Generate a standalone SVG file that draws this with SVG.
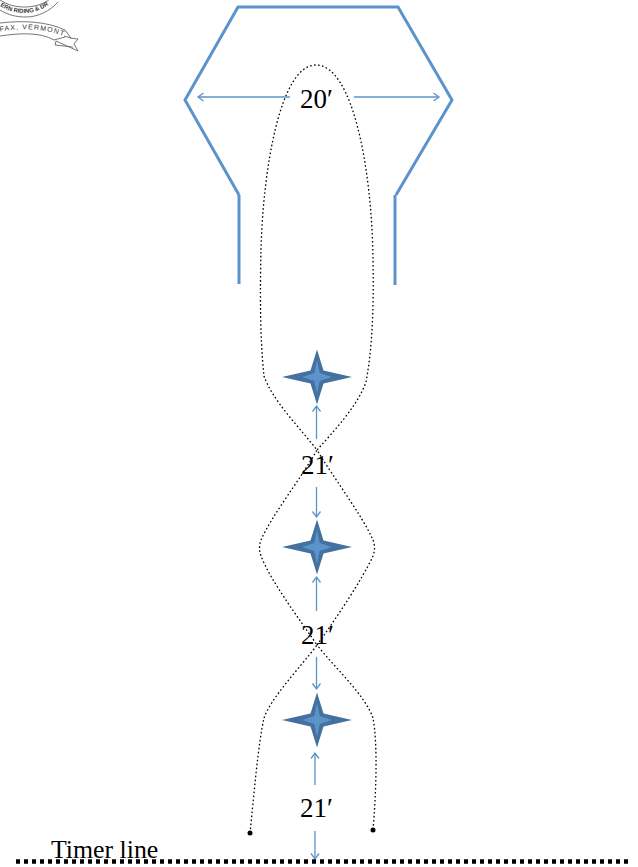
<svg xmlns="http://www.w3.org/2000/svg" width="638" height="867" viewBox="0 0 638 867">
<defs>
<marker id="arr" markerUnits="userSpaceOnUse" markerWidth="12" markerHeight="12" refX="9.5" refY="6" orient="auto"><path d="M4 2 L9.500 6 L4 10" fill="none" stroke="#5b93cb" stroke-width="1.300"/></marker>
<path id="star" d="M0 -27.500 L6.500 -6.500 L35 0 L6.500 6.500 L0 27.500 L-6.500 6.500 L-35 0 L-6.500 -6.500 Z"/>
<path id="logoArc" d="M0 6 C10 12 17 13 25 13 C34 13 44 9 53 2"/>
<path id="logoBand" d="M0 31.500 C20 28 45 28 66 37"/>
</defs>
<style>
.fence{fill:none;stroke:#5b93cb;stroke-width:3}
.dim{fill:none;stroke:#5b93cb;stroke-width:1.300;marker-end:url(#arr)}
.track{fill:none;stroke:#000;stroke-width:1.300;stroke-dasharray:1.600 2.400}
.lbl{font-family:"Liberation Serif",serif;font-size:27px;fill:#000}
.timer{font-size:25.800px}
.logo{font-family:"Liberation Sans",sans-serif;fill:#333;stroke:none}
.star-o{fill:#44719f}
.star-i{fill:#5b93cb}
</style>
<g id="logo" fill="none" stroke="#666" stroke-width="0.900">
<path d="M0 0 C8 5 15 7 25 7 C34 7 44 4 50 -1"/>
<path d="M0 10 C8 15 16 17 26 17 C38 17 50 11 58 2"/>
<path d="M0 23 C25 20 48 22 65 30 L71 38 L64 36 M0 36 C20 33 40 32 54 40 L65 37"/>
<path d="M70 38 L78 39 L74 44 L78 51 L56 41 L55 45 L73 47"/>
<text class="logo" font-size="6" font-weight="bold"><textPath href="#logoArc">ERN RIDING &amp; DR</textPath></text>
<text class="logo" font-size="7"><textPath href="#logoBand" textLength="64">FAX, VERMONT</textPath></text>
</g>
<g id="fence">
<path class="fence" d="M239 195 L185 100 L238 7 L398 7 L452 100 L396 195"/>
<path class="fence" d="M239 195 V284"/>
<path class="fence" d="M395 195 V285"/>
</g>
<g id="connectors">
<path class="track" d="M250 833 C254 795 258 745 264 718 C272 696 300 668 317 645 C300 620 270 580 261 556 Q258 548 261 540 C272 515 300 480 317 450 C300 428 272 400 264 376 C260 340 260 290 261 250 C263 170 280 65 316 65 C353 65 372 170 373 260 C374 310 372 350 366 382 C358 405 335 430 317 450 C335 480 362 515 373 540 Q376 548 373 556 C362 580 335 620 317 645 C335 668 365 695 373 718 C378 745 376 795 373 830"/>
<circle cx="250" cy="833" r="2.500" fill="#000"/>
<circle cx="373" cy="830" r="2.500" fill="#000"/>
<path class="dim" d="M290 97 H198"/>
<path class="dim" d="M354 97 H439"/>
<path class="dim" d="M316.500 439 V406"/>
<path class="dim" d="M316.500 487 V517"/>
<path class="dim" d="M316.500 611 V577"/>
<path class="dim" d="M316.500 657 V689"/>
<path class="dim" d="M315 785 V753"/>
<path class="dim" d="M315 831 V859"/>
<path d="M16 861.500 H630" fill="none" stroke="#000" stroke-width="4.500" stroke-dasharray="4 4"/>
</g>
<g id="cone1"><use href="#star" class="star-o" x="317" y="377"/><use href="#star" class="star-i" transform="translate(317 377) scale(.42 .62)"/></g>
<g id="cone2"><use href="#star" class="star-o" x="317" y="547"/><use href="#star" class="star-i" transform="translate(317 547) scale(.42 .62)"/></g>
<g id="cone3"><use href="#star" class="star-o" x="317" y="720"/><use href="#star" class="star-i" transform="translate(317 720) scale(.42 .62)"/></g>
<g id="labels">
<text class="lbl" x="300" y="108">20′</text>
<text class="lbl" x="301" y="474">21′</text>
<text class="lbl" x="301" y="644">21′</text>
<text class="lbl" x="300" y="817">21′</text>
<text class="lbl timer" x="51" y="858">Timer line</text>
</g>
</svg>
